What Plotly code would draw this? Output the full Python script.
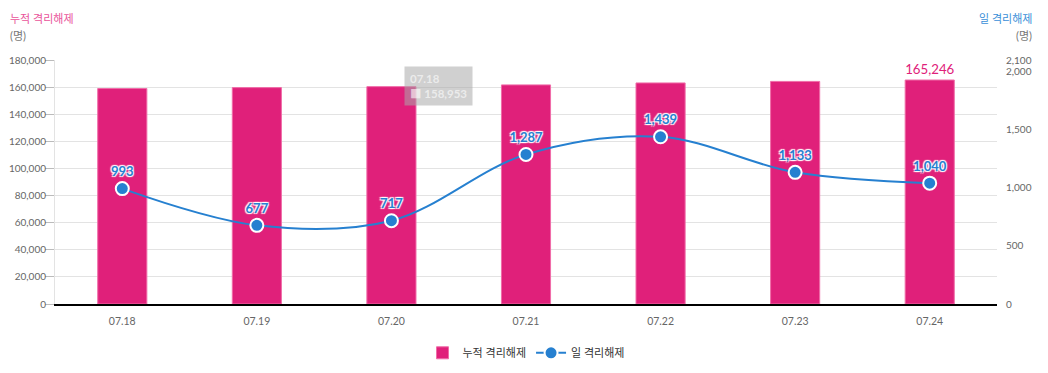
import plotly.graph_objects as go

dates = ["07.18", "07.19", "07.20", "07.21", "07.22", "07.23", "07.24"]
cumulative = [158953, 159630, 160347, 161634, 163073, 164206, 165246]
daily = [993, 677, 717, 1287, 1439, 1133, 1040]
left_ticks = [0, 20000, 40000, 60000, 80000, 100000, 120000, 140000, 160000, 180000]
right_ticks = [0, 500, 1000, 1500, 2000, 2100]

PINK = "#E0207A"
BLUE = "#2680D0"
FONT = "Lato, 'Noto Sans CJK KR', sans-serif"

bar_text = ["" for _ in cumulative[:-1]] + [f"{cumulative[-1]:,}"]

fig = go.Figure()
fig.add_trace(go.Bar(
    x=dates, y=cumulative, name="누적 격리해제",
    marker=dict(color=PINK, line=dict(color="#F06CA8", width=1)),
    width=0.365,
    text=bar_text, textposition="outside", cliponaxis=False,
    textfont=dict(color=PINK, size=14, family=FONT),
    hoverinfo="skip",
))
fig.add_trace(go.Scatter(
    x=dates, y=daily, name="일 격리해제", yaxis="y2",
    mode="lines+markers+text",
    line=dict(color=BLUE, width=2, shape="spline", smoothing=1.0),
    marker=dict(color=BLUE, size=13, line=dict(color="white", width=2)),
    text=[f"{v:,}" for v in daily], textposition="top center",
    textfont=dict(color=BLUE, size=13, family=FONT, weight="bold",
                  shadow="1px 1px 1px white, -1px -1px 1px white, 1px -1px 1px white, -1px 1px 1px white"),
    cliponaxis=False,
))

fig.update_layout(
    width=1040, height=365,
    margin=dict(l=47, r=51, t=52, b=69, autoexpand=False),
    plot_bgcolor="white", paper_bgcolor="white",
    font=dict(family=FONT, color="#666666", size=11),
    showlegend=True,
    legend=dict(orientation="h", x=0.5, xanchor="center", y=-0.2, yanchor="middle",
                font=dict(size=11, color="#333333")),
    xaxis=dict(
        type="category", range=[-0.5, 6.5], automargin=False,
        showline=True, linecolor="black", linewidth=1.5,
        showgrid=False, ticks="", ticklabelstandoff=7,
        tickfont=dict(size=10.5, color="#666666"),
    ),
    yaxis=dict(
        range=[0, 180000], tickvals=left_ticks, tickformat=",", automargin=False,
        showgrid=True, gridcolor="#E3E3E3", gridwidth=1,
        zeroline=False, showline=True, linecolor="#E3E3E3",
        ticks="outside", ticklen=9, tickcolor="#BBBBBB",
        ticklabelstandoff=-3,
        tickfont=dict(size=10, color="#666666"),
    ),
    yaxis2=dict(
        range=[0, 2100], tickvals=right_ticks, tickformat=",", automargin=False,
        overlaying="y", side="right", showgrid=False, zeroline=False,
        showline=False, ticks="", ticklabelstandoff=8,
        tickfont=dict(size=10, color="#666666"),
    ),
    annotations=[
        dict(text="누적 격리해제", xref="paper", yref="paper", x=-0.0499, y=1.0,
             xanchor="left", yanchor="middle", yshift=42, showarrow=False,
             font=dict(color="#E9539A", size=11)),
        dict(text="(명)", xref="paper", yref="paper", x=-0.0499, y=1.0,
             xanchor="left", yanchor="middle", yshift=25, showarrow=False,
             font=dict(color="#777777", size=11)),
        dict(text="일 격리해제", xref="paper", yref="paper", x=1.0393, y=1.0,
             xanchor="right", yanchor="middle", yshift=42, showarrow=False,
             font=dict(color="#3A8FD8", size=11)),
        dict(text="(명)", xref="paper", yref="paper", x=1.0393, y=1.0,
             xanchor="right", yanchor="middle", yshift=25, showarrow=False,
             font=dict(color="#777777", size=11)),
        dict(text="<b>07.18</b><br><b>■ 158,953</b>", xref="x", yref="paper",
             x=2, y=0.975, xanchor="left", yanchor="top", xshift=13,
             align="left", showarrow=False,
             bgcolor="rgba(170,170,170,0.55)", borderpad=5,
             font=dict(color="rgba(255,255,255,0.6)", size=11.5)),
    ],
)

fig.write_html("out.html")
